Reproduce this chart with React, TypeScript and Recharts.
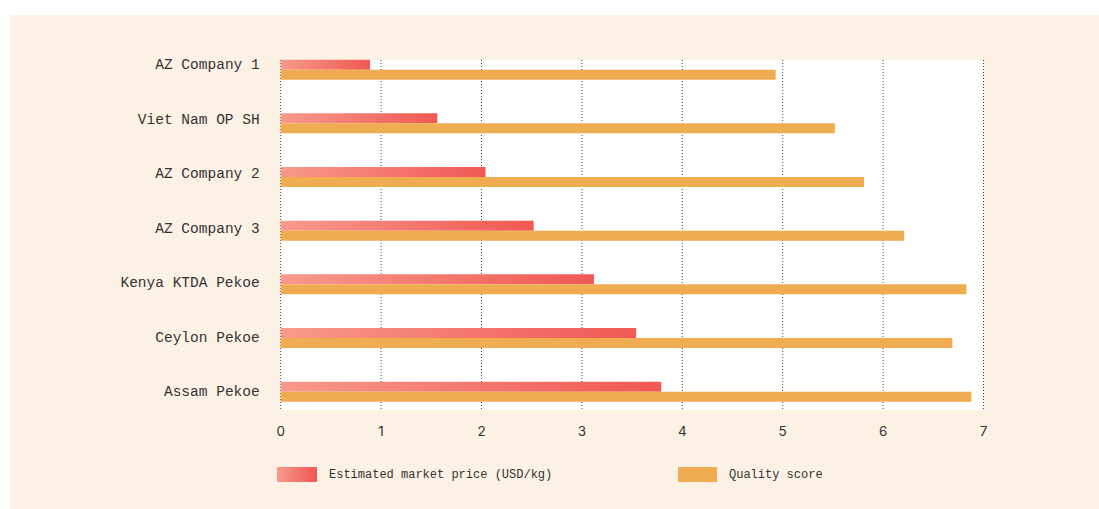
import { BarChart, Bar, XAxis, YAxis, CartesianGrid } from 'recharts'

const teas = [
  'AZ Company 1',
  'Viet Nam OP SH',
  'AZ Company 2',
  'AZ Company 3',
  'Kenya KTDA Pekoe',
  'Ceylon Pekoe',
  'Assam Pekoe',
]
const marketPrice = [0.89, 1.56, 2.04, 2.52, 3.12, 3.54, 3.79]
const qualityScore = [4.93, 5.52, 5.81, 6.21, 6.83, 6.69, 6.88]
const xTicks = [0, 1, 2, 3, 4, 5, 6, 7]

const data = teas.map((name, i) => ({
  name,
  price: marketPrice[i],
  quality: qualityScore[i],
}))

const MONO = '"Liberation Mono", "DejaVu Sans Mono", monospace'
const SANS = 'Inter, "Liberation Sans", sans-serif'
const TEXT = '#333'
const RED_A = '#f79a8c'
const RED_B = '#f05853'
const ORANGE = '#efac50'

// labels in the original drift slightly from the band centres (a bit higher at the top)
// eslint-disable-next-line @typescript-eslint/no-explicit-any
const CategoryTick = (props: any) => {
  const { x, y, payload, index } = props
  const shift = -5.5 + 0.83 * (index ?? 0)
  return (
    <text
      x={x}
      y={y + shift}
      dy="0.355em"
      textAnchor="end"
      fill={TEXT}
      fontFamily={MONO}
      fontSize={14.5}
    >
      {payload.value}
    </text>
  )
}

export default function App() {
  return (
    <div style={{ position: 'absolute', left: 0, top: 0, width: 1099, height: 509, background: '#fff' }}>
      <div
        style={{
          position: 'absolute',
          left: 10,
          top: 15,
          width: 1089,
          height: 494,
          background: '#fcf1e5',
        }}
      />
      <div style={{ position: 'absolute', left: 0, top: 0 }}>
        <BarChart
          width={1099}
          height={509}
          data={data}
          layout="vertical"
          margin={{ top: 60, right: 115.5, bottom: 69, left: 0 }}
          barGap={0}
          barSize={10}
        >
          <defs>
            <linearGradient id="priceGradient" x1="0" y1="0" x2="1" y2="0">
              <stop offset="0%" stopColor={RED_A} />
              <stop offset="100%" stopColor={RED_B} />
            </linearGradient>
          </defs>
          <CartesianGrid
            horizontal={false}
            fill="#ffffff"
            stroke="#444"
            strokeDasharray="1 2"
          />
          <XAxis
            type="number"
            domain={[0, 7]}
            ticks={xTicks}
            axisLine={false}
            tickLine={false}
            tickSize={0}
            tickMargin={16}
            height={30}
            tick={{ fill: TEXT, fontFamily: SANS, fontSize: 13.5 }}
          />
          <YAxis
            type="category"
            dataKey="name"
            width={280.7}
            axisLine={false}
            tickLine={false}
            tickSize={0}
            tickMargin={21}
            padding={{ top: -17.3, bottom: -8.3 }}
            tick={<CategoryTick />}
            interval={0}
          />
          <Bar dataKey="price" fill="url(#priceGradient)" isAnimationActive={false} />
          <Bar dataKey="quality" fill={ORANGE} isAnimationActive={false} />
        </BarChart>
      </div>
      <div
        style={{
          position: 'absolute',
          left: 277,
          top: 467,
          display: 'flex',
          alignItems: 'center',
          fontFamily: MONO,
          fontSize: 12,
          color: TEXT,
        }}
      >
        <div style={{ display: 'flex', alignItems: 'center', width: 401 }}>
          <div
            style={{
              width: 40,
              height: 15,
              background: `linear-gradient(to right, ${RED_A}, ${RED_B})`,
              marginRight: 12,
            }}
          />
          <span>Estimated market price (USD/kg)</span>
        </div>
        <div style={{ display: 'flex', alignItems: 'center' }}>
          <div style={{ width: 39, height: 15, background: ORANGE, marginRight: 12 }} />
          <span>Quality score</span>
        </div>
      </div>
    </div>
  )
}
